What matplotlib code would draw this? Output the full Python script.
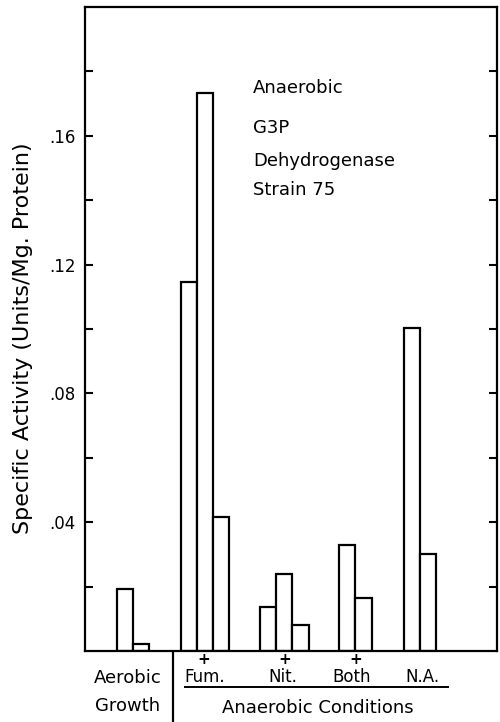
import matplotlib
matplotlib.use("Agg")
from matplotlib import pyplot as plt
from matplotlib.lines import Line2D
import numpy as np

# Données (activité spécifique, unités/mg protéine)
aerobic = [0.0194, 0.0023]
fum = [0.1146, 0.1734, 0.0417]
nit = [0.0137, 0.0238, 0.0082]
both = [0.0329, 0.0165]
na = [0.1004, 0.0301]

groups = [aerobic, fum, nit, both, na]
group_start = [1.94, 5.87, 10.74, 15.6, 19.57]   # bord gauche de chaque groupe
ytick_major = [0.04, 0.08, 0.12, 0.16]
ytick_labels = ['.04', '.08', '.12', '.16']

W, H = 500, 722
fig = plt.figure(figsize=(W / 100, H / 100), dpi=100)
ax = fig.add_axes([85 / W, 1 - 651 / H, 412 / W, 644 / H])


def px(x, y):
    return x / W, 1 - y / H


for start, vals in zip(group_start, groups):
    xs = start + np.arange(len(vals)) + 0.5
    ax.bar(xs, vals, width=1.0, facecolor='white', edgecolor='black',
           linewidth=1.6)

ax.set_xlim(0, 25.3)
ax.set_ylim(0, 0.20)
ax.set_xticks([])
ax.set_yticks(ytick_major)
ax.set_yticklabels(ytick_labels, fontsize=12, fontweight='medium')
ax.set_yticks(np.arange(0.02, 0.20, 0.04), minor=True)
ax.tick_params(axis='y', which='both', direction='in', length=6, width=1.5,
               right=True, pad=7)
for sp in ax.spines.values():
    sp.set_linewidth(1.6)

ax.set_ylabel('Specific Activity (Units/Mg. Protein)', fontsize=16)
ax.yaxis.set_label_coords(-0.125, 0.485)

# Texte dans le cadre
for txt, y in [('Anaerobic', 88), ('G3P', 128), ('Dehydrogenase', 161),
               ('Strain 75', 190)]:
    fig.text(*px(253, y), txt, fontsize=13, ha='left', va='center')

# Signes "+" sous l'axe
for gx in [group_start[1] + 1.4, group_start[2] + 1.5, group_start[3] + 1.0]:
    ax.text(gx, -0.0003, '+', ha='center', va='top', fontsize=11,
            fontweight='bold', clip_on=False)

# Étiquettes du bas
fig.text(*px(128, 678), 'Aerobic', fontsize=13, ha='center', va='center')
fig.text(*px(128, 706), 'Growth', fontsize=13, ha='center', va='center')
for txt, x in [('Fum.', 205), ('Nit.', 283), ('Both', 352), ('N.A.', 422)]:
    fig.text(*px(x, 677), txt, fontsize=12, ha='center', va='center')
fig.text(*px(318, 708), 'Anaerobic Conditions', fontsize=13, ha='center',
         va='center')

fig.add_artist(Line2D([173 / W, 173 / W], [1 - 652 / H, 0], color='black',
                      linewidth=1.6))
fig.add_artist(Line2D([185 / W, 448 / W], [1 - 687 / H, 1 - 687 / H],
                      color='black', linewidth=1.4))

fig.savefig('out.png', dpi=100)
plt.close(fig)
